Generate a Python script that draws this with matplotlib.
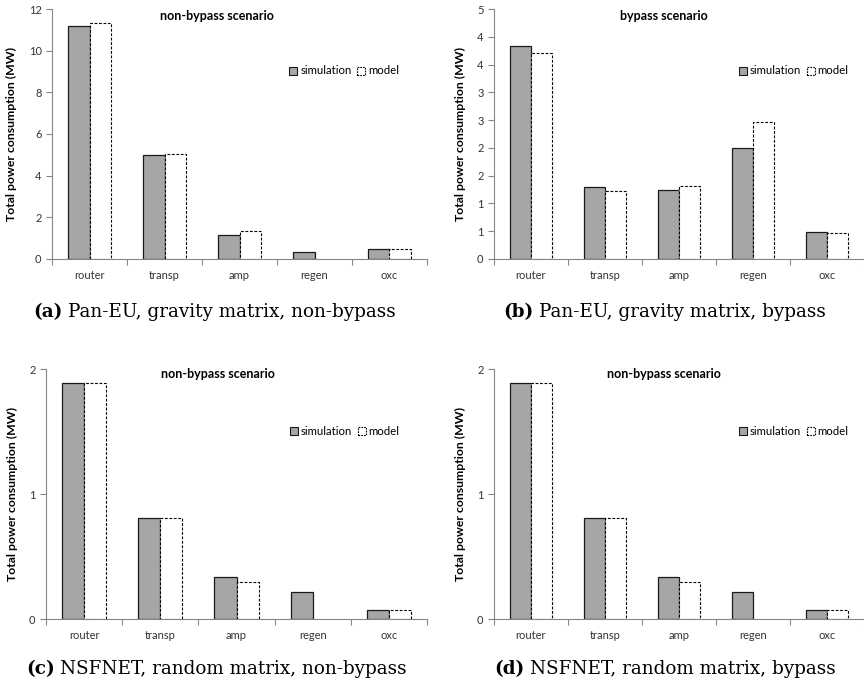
import numpy as np
import matplotlib
matplotlib.use('Agg')
import matplotlib.pyplot as plt
from matplotlib.patches import Patch
from matplotlib.text import Annotation
from matplotlib.ticker import FixedLocator, FixedFormatter

plt.rcParams['font.family'] = ['Lato', 'DejaVu Sans']

# categories of power consumers
categories = ['router', 'transp', 'amp', 'regen', 'oxc']

# Pan-EU, gravity matrix
paneu_nonbypass_sim = [11.2, 4.98, 1.17, 0.34, 0.48]
paneu_nonbypass_model = [11.33, 5.06, 1.33, 0.0, 0.48]
paneu_bypass_sim = [3.83, 1.30, 1.24, 2.00, 0.49]
paneu_bypass_model = [3.71, 1.23, 1.31, 2.47, 0.46]

# NSFNET, random matrix
nsf_nonbypass_sim = [1.89, 0.805, 0.34, 0.216, 0.072]
nsf_nonbypass_model = [1.89, 0.805, 0.30, 0.0, 0.072]
nsf_bypass_sim = [1.89, 0.805, 0.34, 0.216, 0.072]
nsf_bypass_model = [1.89, 0.805, 0.30, 0.0, 0.072]

# y ticks (the bypass panel shows rounded half-step labels)
ticks_a = [0, 2, 4, 6, 8, 10, 12]
ticks_b = [0, 0.5, 1, 1.5, 2, 2.5, 3, 3.5, 4, 4.5]
ticklabels_b = ['0', '1', '1', '2', '2', '3', '3', '4', '4', '5']
ticks_cd = [0, 1, 2]

titles = ['non-bypass scenario', 'bypass scenario',
          'non-bypass scenario', 'non-bypass scenario']
captions = [('(a)', 'Pan-EU, gravity matrix, non-bypass'),
            ('(b)', 'Pan-EU, gravity matrix, bypass'),
            ('(c)', 'NSFNET, random matrix, non-bypass'),
            ('(d)', 'NSFNET, random matrix, bypass')]

GRAY = '#a6a6a6'
AXIS = '#868686'
TXT = '#333333'
W, H = 864, 691


def panel(fig, rect, sim, model, ticks, ticklabels, ylim, title, legend_xy):
    l, b, r, t = rect
    ax = fig.add_axes([l / W, 1 - b / H, (r - l) / W, (b - t) / H])
    x = np.arange(len(categories))
    bw = 0.29
    ax.bar(x - bw / 2, sim, bw, color=GRAY, edgecolor='#1a1a1a', linewidth=0.9)
    mbars = ax.bar(x + bw / 2, model, bw, color='white', edgecolor='black',
                   linewidth=0.8, linestyle=(0, (2.5, 1.5)))
    # empty model bars leave no outline on the axis
    for p in mbars:
        if p.get_height() == 0:
            p.set_visible(False)
    ax.set_xlim(-0.5, len(categories) - 0.5)
    ax.set_ylim(*ylim)

    ax.xaxis.set_major_locator(FixedLocator(np.arange(-0.5, len(categories), 1)))
    ax.xaxis.set_major_formatter(FixedFormatter([''] * (len(categories) + 1)))
    ax.xaxis.set_minor_locator(FixedLocator(x))
    ax.xaxis.set_minor_formatter(FixedFormatter(categories))
    ax.tick_params(axis='x', which='major', length=4, color=AXIS, direction='out')
    ax.tick_params(axis='x', which='minor', length=0, labelsize=8, pad=8,
                   labelcolor=TXT)

    ax.set_yticks(ticks)
    if ticklabels is not None:
        ax.set_yticklabels(ticklabels)
    else:
        ax.set_yticklabels([str(v) for v in ticks])
    ax.tick_params(axis='y', length=4, color=AXIS, labelsize=8, labelcolor=TXT)

    for s in ('top', 'right'):
        ax.spines[s].set_visible(False)
    for s in ('left', 'bottom'):
        ax.spines[s].set_color(AXIS)
        ax.spines[s].set_linewidth(0.8)

    ax.set_ylabel('Total power consumption (MW)', fontsize=8.8, fontweight='bold',
                  labelpad=8)
    ax.text(title[1], title[2], title[0], transform=ax.transAxes,
            ha='center', va='center', fontsize=9, fontweight='bold')

    handles = [Patch(facecolor=GRAY, edgecolor='#1a1a1a', linewidth=0.8),
               Patch(facecolor='white', edgecolor='black', linewidth=0.8,
                     linestyle=(0, (1.5, 1)))]
    ax.legend(handles, ['simulation', 'model'], ncol=2, frameon=False,
              loc='center left', bbox_to_anchor=legend_xy, fontsize=8.2,
              handlelength=0.7, handleheight=0.7, handletextpad=0.25,
              columnspacing=0.5, borderaxespad=0, borderpad=0)
    return ax


def caption(fig, x, y, tag, text):
    t = fig.text(x / W, 1 - y / H, tag, fontsize=13.2, fontweight='bold',
                 family='DejaVu Serif', va='baseline', ha='left')
    rest = Annotation(text, xy=(1, 0), xycoords=t, xytext=(4, 0),
                      textcoords='offset points', fontsize=13.2,
                      family='DejaVu Serif', va='bottom', ha='left')
    fig.add_artist(rest)


fig = plt.figure(figsize=(8.64, 6.91), dpi=100)

panel(fig, (52, 259, 427, 9), paneu_nonbypass_sim, paneu_nonbypass_model,
      ticks_a, None, (0, 12), (titles[0], 0.44, 0.97), (0.633, 0.752))
panel(fig, (494, 259, 864, 9), paneu_bypass_sim, paneu_bypass_model,
      ticks_b, ticklabels_b, (0, 4.5), (titles[1], 0.46, 0.97), (0.662, 0.752))
panel(fig, (46, 619, 427, 369), nsf_nonbypass_sim, nsf_nonbypass_model,
      ticks_cd, None, (0, 2), (titles[2], 0.45, 0.98), (0.64, 0.752))
panel(fig, (494, 619, 864, 369), nsf_bypass_sim, nsf_bypass_model,
      ticks_cd, None, (0, 2), (titles[3], 0.46, 0.98), (0.662, 0.752))

# captions, baseline positions
caption(fig, 33, 317, *captions[0])
caption(fig, 503, 317, *captions[1])
caption(fig, 26, 674, *captions[2])
caption(fig, 494, 674, *captions[3])

fig.savefig('out.png', dpi=100)
